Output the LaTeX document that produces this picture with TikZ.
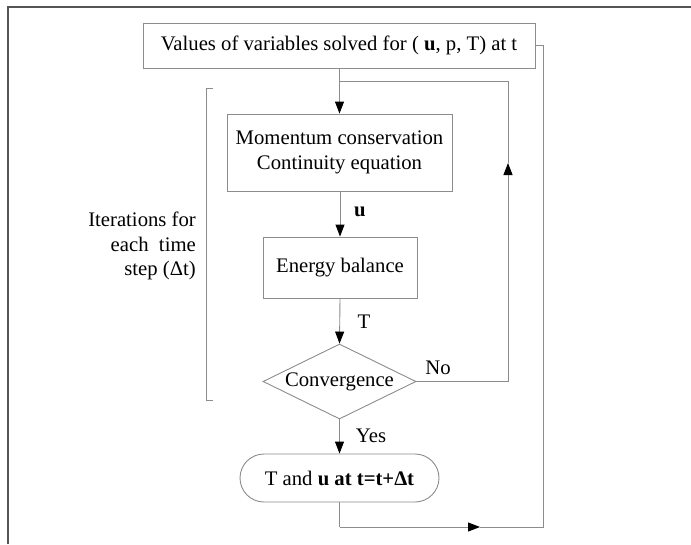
\documentclass[tikz,border=0pt]{standalone}
\usepackage{fontspec}
\setmainfont{Liberation Serif}
\usetikzlibrary{arrows.meta,shapes.geometric}
\begin{document}
\begin{tikzpicture}[x=1pt,y=-1pt,
  every node/.style={font=\fontsize{20.7}{24.5}\selectfont},
  box/.style={draw=linegray, line width=0.9pt, rectangle, inner sep=0pt},
  conn/.style={draw=linegray, line width=0.9pt},
  arr/.style={conn, -{Triangle[length=12pt,width=9pt,fill=black,color=black]}},
  lbl/.style={inner sep=0pt}
]
\definecolor{linegray}{HTML}{8C8C8C}
\definecolor{framegray}{HTML}{555555}
\useasboundingbox (0,0) rectangle (691,544);
% outer frame (top and left)
\draw[framegray, line width=1.3pt] (8,544) -- (8,7) -- (691,7);

% nodes
\node[box, minimum width=392pt, minimum height=45pt] (top) at (339,45.5)
  {Values of variables solved for ( \textbf{u}, p, T) at t};
\node[box, minimum width=225pt, minimum height=77pt, align=center] (mom) at (339.5,152.5)
  {Momentum conservation\\Continuity equation};
\node[box, minimum width=154pt, minimum height=61pt] (en) at (340,267.5)
  {Energy balance};
\node[diamond, draw=linegray, line width=0.9pt, inner sep=0pt, minimum width=153pt, minimum height=75pt] (conv) at (339.5,381.5)
  {\makebox[0pt]{Convergence}};
\node[draw=linegray, line width=0.9pt, rectangle, rounded corners=24pt, minimum width=199pt, minimum height=48pt, inner sep=0pt] (res) at (339.5,478)
  {T and \textbf{u at t=t+Δt}};

% labels
\node[lbl] (lu) at (360,212) {\textbf{u}};
\node[lbl] (lT) at (364,322) {T};
\node[lbl] (lNo) at (438,368) {No};
\node[lbl] (lYes) at (371,436) {Yes};
\node[lbl, align=right, anchor=east] (iter) at (196,246)
  {Iterations for\\each\ \ time\\step (Δt)};

% bracket
\coordinate (bt) at (213,88);
\coordinate (btl) at (206,88);
\coordinate (bbl) at (206,400);
\coordinate (bb) at (213,400);
\draw[conn] (bt) -- (btl) -- (bbl) -- (bb);

% main flow
\coordinate (branch) at (339,81);
\draw[arr] (top.south -| mom.north) -- (mom.north);
\draw[arr] (mom.south -| en.north) -- (en.north);
\draw[arr] (en.south) -- (conv.north);
\draw[arr] (conv.south) -- (res.north);

% No loop
\coordinate (nc) at (508,381.5);
\coordinate (nm) at (508,163);
\coordinate (nb) at (508,81);
\draw[conn] (conv.east) -- (nc);
\draw[arr] (nc) -- (nm);
\draw[conn] (nm) -- (nb) -- (branch);

% bottom loop
\coordinate (r1) at (339.5,527);
\coordinate (r2) at (480,527);
\coordinate (r3) at (543,527);
\coordinate (r4) at (543,45.5);
\draw[conn] (res.south) -- (r1);
\draw[arr] (r1) -- (r2);
\draw[conn] (r2) -- (r3) -- (r4) -- (top.east);
\end{tikzpicture}
\end{document}
